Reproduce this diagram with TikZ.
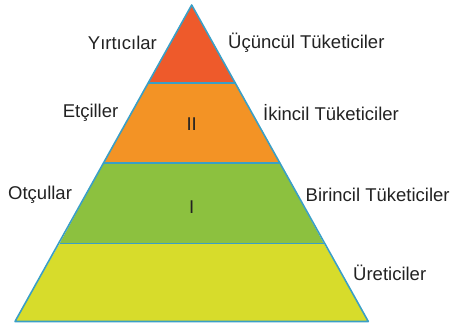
\documentclass[tikz,border=0pt]{standalone}
\usepackage{fontspec}
\setmainfont{Liberation Sans}
\definecolor{edge}{HTML}{3A9FC6}
\definecolor{lvlA}{HTML}{EE5A2B}
\definecolor{lvlB}{HTML}{F39325}
\definecolor{lvlC}{HTML}{8CC13F}
\definecolor{lvlD}{HTML}{D7DC2B}
\definecolor{ink}{HTML}{222222}
\tikzset{
  layer/.style={draw=edge, line width=1.6pt, line join=round},
  lbl/.style={font=\fontsize{18.5}{20}\selectfont, inner sep=0pt, text=ink},
}
\begin{document}
\begin{tikzpicture}[x=1pt,y=-1pt]
\useasboundingbox (0,0) rectangle (450,329);
\coordinate (apex) at (191.7,5);
\coordinate (bl) at (15,321.5);
\coordinate (br) at (368.3,321.5);
% layers
\path[fill=lvlD] (bl) -- (br) -- (323.7,243.3) -- (59.7,243.3) -- cycle;
\path[fill=lvlC] (59.7,243.3) -- (323.7,243.3) -- (279.6,162.7) -- (103.8,162.7) -- cycle;
\path[fill=lvlB] (103.8,162.7) -- (279.6,162.7) -- (235.6,83.3) -- (147.8,83.3) -- cycle;
\path[fill=lvlA] (147.8,83.3) -- (235.6,83.3) -- (apex) -- cycle;
\draw[layer] (59.7,243.3) -- (323.7,243.3);
\draw[layer] (103.8,162.7) -- (279.6,162.7);
\draw[layer] (147.8,83.3) -- (235.6,83.3);
\draw[layer] (apex) -- (br) -- (bl) -- cycle;
% labels
\node[lbl, anchor=east] (yirt) at (157,43) {Yırtıcılar};
\node[lbl, anchor=west] (ucun) at (228,43) {Üçüncül Tüketiciler};
\node[lbl, anchor=east] (etc) at (118.5,113) {Etçiller};
\node[lbl, anchor=west] (ikin) at (263,113) {İkincil Tüketiciler};
\node[lbl] (two) at (191.7,124) {II};
\node[lbl, anchor=west] (otc) at (8,195) {Otçullar};
\node[lbl, anchor=west] (birin) at (305.5,195) {Birincil Tüketiciler};
\node[lbl] (one) at (191.7,207) {I};
\node[lbl, anchor=west] (uret) at (353,273) {Üreticiler};
\end{tikzpicture}
\end{document}
